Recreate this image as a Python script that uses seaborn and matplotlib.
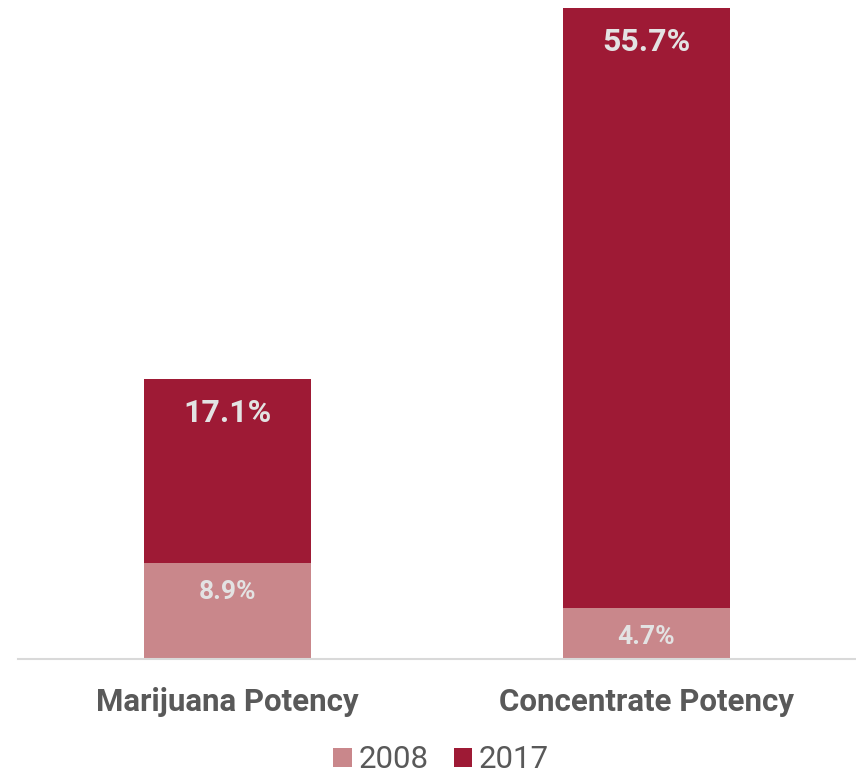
import matplotlib
matplotlib.use("Agg")
import matplotlib.pyplot as plt
import seaborn as sns
import pandas as pd
from matplotlib.patches import Patch

# Data
categories = ["Marijuana Potency", "Concentrate Potency"]
potency_2008 = [8.9, 4.7]
potency_2017 = [17.1, 55.7]
years = ["2008", "2017"]

colors = {"2008": "#c9878b", "2017": "#9e1a35"}
label_color = "#e3e3e3"
text_color = "#595959"

df = pd.DataFrame({
    "category": categories,
    "2008": potency_2008,
    "2017": potency_2017,
})
df["total"] = df["2008"] + df["2017"]

sns.set_style("white")
plt.rcParams["font.family"] = ["Roboto", "DejaVu Sans"]

fig = plt.figure(figsize=(8.56, 7.75), dpi=100)
ax = fig.add_axes([18 / 856, 116 / 775, 1 - 18 / 856, 651 / 775])

# stacked: draw totals (2017 on top), then 2008 over the bottom part
sns.barplot(data=df, x="category", y="total", color=colors["2017"],
            width=0.4, saturation=1, linewidth=0, ax=ax, order=categories)
sns.barplot(data=df, x="category", y="2008", color=colors["2008"],
            width=0.4, saturation=1, linewidth=0, ax=ax, order=categories)

ax.set_xlim(-0.5, 1.5)
ax.set_ylim(0, df["total"].max())

# value labels
for i, row in df.iterrows():
    ax.annotate(f"{row['2017']}%", xy=(i, row["total"]), xytext=(0, -34),
                textcoords="offset pixels", ha="center", va="center",
                fontsize=23, fontweight="bold", color=label_color)
    ax.annotate(f"{row['2008']}%", xy=(i, row["2008"]), xytext=(0, -29),
                textcoords="offset pixels", ha="center", va="center",
                fontsize=19, fontweight="bold", color=label_color)

for side in ["top", "right", "left"]:
    ax.spines[side].set_visible(False)
ax.spines["bottom"].set_color("#d9d9d9")
ax.spines["bottom"].set_linewidth(1.5)
ax.set_yticks([])
ax.set_xlabel("")
ax.set_ylabel("")
ax.tick_params(axis="x", length=0, pad=20, labelsize=22.5, labelcolor=text_color)
for lbl in ax.get_xticklabels():
    lbl.set_fontweight("bold")

handles = [Patch(facecolor=colors[y], edgecolor="none", label=y) for y in years]
fig.legend(handles=handles, loc="center", bbox_to_anchor=(441 / 856, 1 - 760 / 775),
           ncol=2, frameon=False, fontsize=22.5, labelcolor=text_color,
           handlelength=0.6, handleheight=0.6, handletextpad=0.2, columnspacing=0.8)

fig.savefig("out.png", dpi=100)
